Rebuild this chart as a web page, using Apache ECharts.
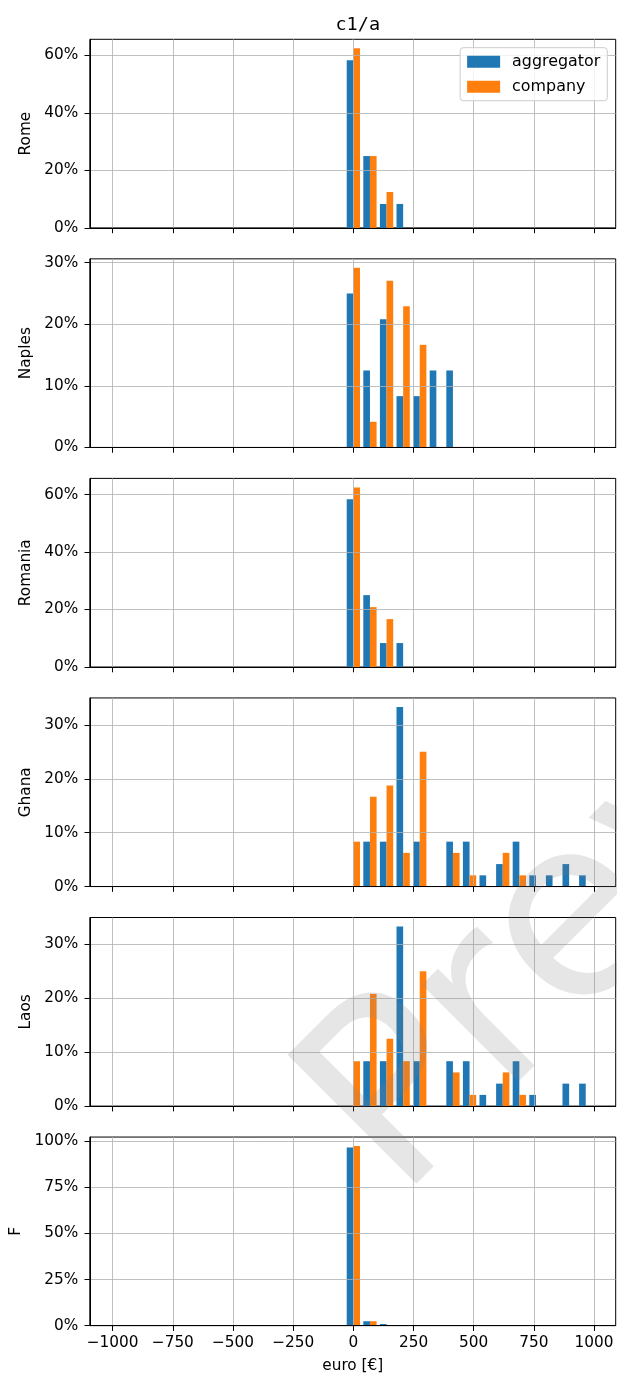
<!DOCTYPE html>
<html>
<head>
<meta charset="utf-8">
<title>c1/a</title>
<script src="https://cdn.jsdelivr.net/npm/echarts@6/dist/echarts.min.js"></script>
<style>
  html, body { margin: 0; padding: 0; background: #fff; }
  #chart { width: 617px; height: 1376px; }
</style>
</head>
<body>
<div id="chart"></div>
<script>
// Histogram bins: 29 equal bins spanning -1000 .. 1000 €
const binLow = -1000;
const binHigh = 1000;
const binCount = 29;
// Arrays below start at this bin (the one centred on 0 €); lower bins are empty
const firstBin = 14;

const regions = ['Rome', 'Naples', 'Romania', 'Ghana', 'Laos', 'F'];
const seriesNames = ['aggregator', 'company'];

// Share of observations per bin, in percent
const romeAggregator = [58.33, 25, 8.33, 8.33];
const romeCompany = [62.5, 25, 12.5];
const naplesAggregator = [25, 12.5, 20.83, 8.33, 8.33, 12.5, 12.5];
const naplesCompany = [29.17, 4.17, 27.08, 22.92, 16.67];
const romaniaAggregator = [58.33, 25, 8.33, 8.33];
const romaniaCompany = [62.5, 20.83, 16.67];
const ghanaAggregator = [0, 8.33, 8.33, 33.33, 8.33, 0, 8.33, 8.33, 2.08, 4.17, 8.33, 2.08, 2.08, 4.17, 2.08];
const ghanaCompany = [8.33, 16.67, 18.75, 6.25, 25, 0, 6.25, 2.08, 0, 6.25, 2.08];
const laosAggregator = [0, 8.33, 8.33, 33.33, 8.33, 0, 8.33, 8.33, 2.08, 4.17, 8.33, 2.08, 0, 4.17, 4.17];
const laosCompany = [8.33, 20.83, 12.5, 8.33, 25, 0, 6.25, 2.08, 0, 6.25, 2.08];
const fAggregator = [96.6, 2.4, 0.9];
const fCompany = [97.4, 2.4];

const aggregatorValues = [romeAggregator, naplesAggregator, romaniaAggregator, ghanaAggregator, laosAggregator, fAggregator];
const companyValues = [romeCompany, naplesCompany, romaniaCompany, ghanaCompany, laosCompany, fCompany];

// Tick labels
const xTicks = [-1000, -750, -500, -250, 0, 250, 500, 750, 1000];
const yTicksRome = [0, 20, 40, 60];
const yTicksNaples = [0, 10, 20, 30];
const yTicksRomania = [0, 20, 40, 60];
const yTicksGhana = [0, 10, 20, 30];
const yTicksLaos = [0, 10, 20, 30];
const yTicksF = [0, 25, 50, 75, 100];
const yTicks = [yTicksRome, yTicksNaples, yTicksRomania, yTicksGhana, yTicksLaos, yTicksF];

// ---- drawing ----
const COLORS = ['#1f77b4', '#ff7f0e'];
const FONT = 'DejaVu Sans';
const FS = 15.3;
const TICK_LEN = 5.3;
const binWidth = (binHigh - binLow) / binCount;
const barFrac = 0.4;            // each of the two bars takes 40% of a bin
const X_MIN = -1095, X_MAX = 1090;
const PLOT_LEFT = 89.8, PLOT_WIDTH = 525.9;
const PLOT_TOP0 = 39.3, PLOT_STEP = 219.55, PLOT_HEIGHT = 188.6;

function binCenter(i) {
  return binLow + binWidth * (i + 0.5);
}

function toPoints(values) {
  const pts = [];
  values.forEach((v, k) => {
    if (v > 0) pts.push([binCenter(firstBin + k), v]);
  });
  return pts;
}

function makeRender(side) {
  return function (params, api) {
    const c = api.value(0);
    const v = api.value(1);
    const w = binWidth * barFrac;
    const x0 = side === 0 ? c - w : c;
    const pTop = api.coord([x0, v]);
    const pBot = api.coord([x0 + w, 0]);
    return {
      type: 'rect',
      shape: { x: pTop[0], y: pTop[1], width: pBot[0] - pTop[0], height: pBot[1] - pTop[1] },
      style: { fill: api.visual('color') }
    };
  };
}

const fmtX = v => (v < 0 ? '\u2212' + Math.abs(v) : String(v));

const grids = [], xAxes = [], yAxes = [], series = [];
regions.forEach((name, i) => {
  const isLast = i === regions.length - 1;
  grids.push({
    left: PLOT_LEFT, width: PLOT_WIDTH,
    top: PLOT_TOP0 + i * PLOT_STEP, height: PLOT_HEIGHT,
    show: true, borderColor: '#000', borderWidth: 1, backgroundColor: 'transparent'
  });
  xAxes.push({
    type: 'value', gridIndex: i, min: X_MIN, max: X_MAX, z: 3,
    axisLine: { show: true, onZero: false, lineStyle: { color: '#000', width: 1 } },
    axisTick: { show: true, length: TICK_LEN, customValues: xTicks, lineStyle: { color: '#000', width: 1 } },
    axisLabel: {
      show: isLast, customValues: xTicks, formatter: fmtX, margin: 10,
      color: '#000', fontFamily: FONT, fontSize: FS
    },
    splitLine: { show: true, lineStyle: { color: '#b0b0b0', width: 0.8 } },
    name: isLast ? 'euro [€]' : '', nameLocation: 'middle', nameGap: 33,
    nameTextStyle: { color: '#000', fontFamily: FONT, fontSize: FS }
  });
  const allVals = aggregatorValues[i].concat(companyValues[i]);
  const yMax = Math.max.apply(null, allVals) * 1.05;
  yAxes.push({
    type: 'value', gridIndex: i, min: 0, max: yMax, z: 3,
    axisLine: { show: true, onZero: false, lineStyle: { color: '#000', width: 1 } },
    axisTick: { show: true, length: TICK_LEN, customValues: yTicks[i], lineStyle: { color: '#000', width: 1 } },
    axisLabel: {
      customValues: yTicks[i], formatter: v => v + '%', margin: 11.5,
      color: '#000', fontFamily: FONT, fontSize: FS
    },
    splitLine: { show: true, lineStyle: { color: '#b0b0b0', width: 0.8 } },
    name: name, nameLocation: 'middle', nameGap: 53.5, nameRotate: 90,
    nameTextStyle: { color: '#000', fontFamily: FONT, fontSize: FS }
  });
  [aggregatorValues[i], companyValues[i]].forEach((vals, s) => {
    series.push({
      type: 'custom', name: seriesNames[s],
      xAxisIndex: i, yAxisIndex: i, z: 2,
      itemStyle: { color: COLORS[s] },
      encode: { x: 0, y: 1 },
      renderItem: makeRender(s),
      data: toPoints(vals)
    });
  });
});

const chart = echarts.init(document.getElementById('chart'), null, { renderer: 'canvas' });
chart.setOption({
  animation: false,
  backgroundColor: '#fff',
  color: COLORS,
  title: {
    text: 'c1/a', left: PLOT_LEFT + PLOT_WIDTH / 2, top: 11, textAlign: 'center',
    textStyle: { fontFamily: 'DejaVu Sans Mono', fontSize: 18.5, fontWeight: 'normal', color: '#000' }
  },
  legend: {
    data: [
      { name: 'aggregator', icon: 'rect' },
      { name: 'company', icon: 'rect' }
    ],
    orient: 'vertical', right: 9.7, top: 47.7,
    itemWidth: 33, itemHeight: 12, itemGap: 9,
    padding: [6, 7, 6, 7],
    backgroundColor: 'rgba(255,255,255,0.8)',
    borderColor: '#cccccc', borderWidth: 1, borderRadius: 3,
    textStyle: { fontFamily: FONT, fontSize: 15.9, color: '#000', padding: [0, 0, 0, 7] }
  },
  grid: grids,
  xAxis: xAxes,
  yAxis: yAxes,
  series: series,
  graphic: [{
    type: 'text', silent: true, z: 100,
    x: 353, y: 1155, rotation: Math.PI / 4,
    style: {
      text: 'Preview', fontFamily: FONT, fontSize: 250,
      fill: 'rgba(128,128,128,0.2)', textAlign: 'left', textVerticalAlign: 'middle'
    }
  }]
});
</script>
</body>
</html>
